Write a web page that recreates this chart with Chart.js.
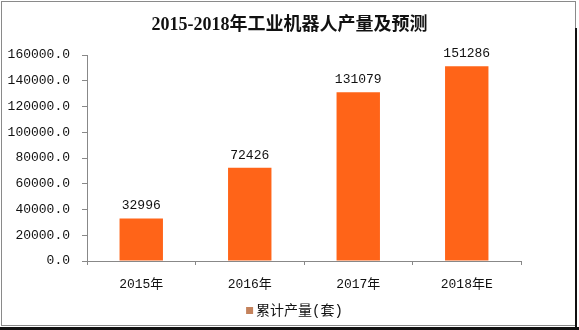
<!DOCTYPE html>
<html>
<head>
<meta charset="utf-8">
<script src="https://cdn.jsdelivr.net/npm/chart.js@4.4.0/dist/chart.umd.min.js"></script>
<style>
  html, body { margin: 0; padding: 0; background: #fff; }
  #wrap { width: 579px; height: 330px; position: relative; }
</style>
</head>
<body>
<div id="wrap"><canvas id="robotChart" width="579" height="330"></canvas></div>
<script>
// Yearly output of industrial robots, last year is a forecast
const years = ['2015年', '2016年', '2017年', '2018年E'];
const output = [32996, 72426, 131079, 151286];
const yTicks = [0, 20000, 40000, 60000, 80000, 100000, 120000, 140000, 160000];

const TITLE = '2015-2018年工业机器人产量及预测';
const SERIES_NAME = '累计产量(套)';

const BAR_COLOR = '#FF6418';
const LEGEND_COLOR = '#C4825C';
const TEXT_FONT = "'Liberation Mono', 'Noto Sans CJK SC', monospace";

// value labels above each bar
const valueLabels = {
  id: 'valueLabels',
  afterDatasetsDraw(chart) {
    const ctx = chart.ctx;
    const meta = chart.getDatasetMeta(0);
    ctx.save();
    ctx.font = '13px ' + TEXT_FONT;
    ctx.fillStyle = '#111';
    ctx.textAlign = 'center';
    ctx.textBaseline = 'bottom';
    meta.data.forEach((bar, i) => {
      ctx.fillText(String(output[i]), bar.x, bar.y - 6);
    });
    ctx.restore();
  }
};

// title and legend are centred on the whole panel, not on the plot
const headerFooter = {
  id: 'headerFooter',
  afterDraw(chart) {
    const ctx = chart.ctx;
    const cx = chart.width / 2;
    ctx.save();
    ctx.fillStyle = '#111';
    ctx.textBaseline = 'middle';

    ctx.font = "bold 18px 'Liberation Serif', 'Noto Sans CJK SC', serif";
    ctx.textAlign = 'center';
    ctx.fillText(TITLE, cx, 25);

    ctx.font = '14px ' + TEXT_FONT;
    const tw = ctx.measureText(SERIES_NAME).width;
    const box = 7, gap = 3;
    const x0 = cx + 5 - (box + gap + tw) / 2;
    ctx.fillStyle = LEGEND_COLOR;
    ctx.fillRect(x0, 307, box, box);
    ctx.fillStyle = '#111';
    ctx.textAlign = 'left';
    ctx.fillText(SERIES_NAME, x0 + box + gap, 311);
    ctx.restore();
  }
};

// white panel with a thin grey outline and dark shadow edges
const frame = {
  id: 'frame',
  beforeDraw(chart) {
    const ctx = chart.ctx;
    ctx.save();
    ctx.fillStyle = '#fff';
    ctx.fillRect(0, 0, chart.width, chart.height);
    ctx.restore();
  },
  afterDraw(chart) {
    const ctx = chart.ctx;
    ctx.save();
    ctx.strokeStyle = '#8a8a8a';
    ctx.lineWidth = 1;
    ctx.strokeRect(1.5, 1.5, 574, 324);
    ctx.fillStyle = '#111';
    ctx.fillRect(0, 327, chart.width, 3);
    ctx.fillRect(575, 28, 2, 299);
    ctx.restore();
  }
};

new Chart(document.getElementById('robotChart'), {
  type: 'bar',
  data: {
    labels: years,
    datasets: [{
      label: SERIES_NAME,
      data: output,
      backgroundColor: BAR_COLOR,
      borderWidth: 0,
      barPercentage: 0.4,
      categoryPercentage: 1.0
    }]
  },
  options: {
    responsive: false,
    animation: false,
    devicePixelRatio: 1,
    layout: { padding: { left: 0, right: 58, top: 55, bottom: 29 } },
    plugins: {
      title: { display: false },
      legend: { display: false },
      tooltip: { enabled: false }
    },
    scales: {
      x: {
        afterFit: scale => { scale.height = 40; },
        grid: {
          offset: true,
          drawOnChartArea: false,
          drawTicks: true,
          tickLength: 4,
          color: '#888'
        },
        border: { color: '#888' },
        ticks: {
          color: '#111',
          padding: 12,
          font: { family: TEXT_FONT, size: 13 }
        }
      },
      y: {
        min: 0,
        max: 160000,
        afterFit: scale => { scale.width = 87; },
        afterBuildTicks: axis => {
          axis.ticks = yTicks.map(v => ({ value: v }));
        },
        grid: {
          drawOnChartArea: false,
          drawTicks: true,
          tickLength: 5,
          color: '#888'
        },
        border: { color: '#888' },
        ticks: {
          color: '#111',
          padding: 12,
          font: { family: TEXT_FONT, size: 13 },
          callback: value => Number(value).toFixed(1)
        }
      }
    }
  },
  plugins: [frame, valueLabels, headerFooter]
});
</script>
</body>
</html>
